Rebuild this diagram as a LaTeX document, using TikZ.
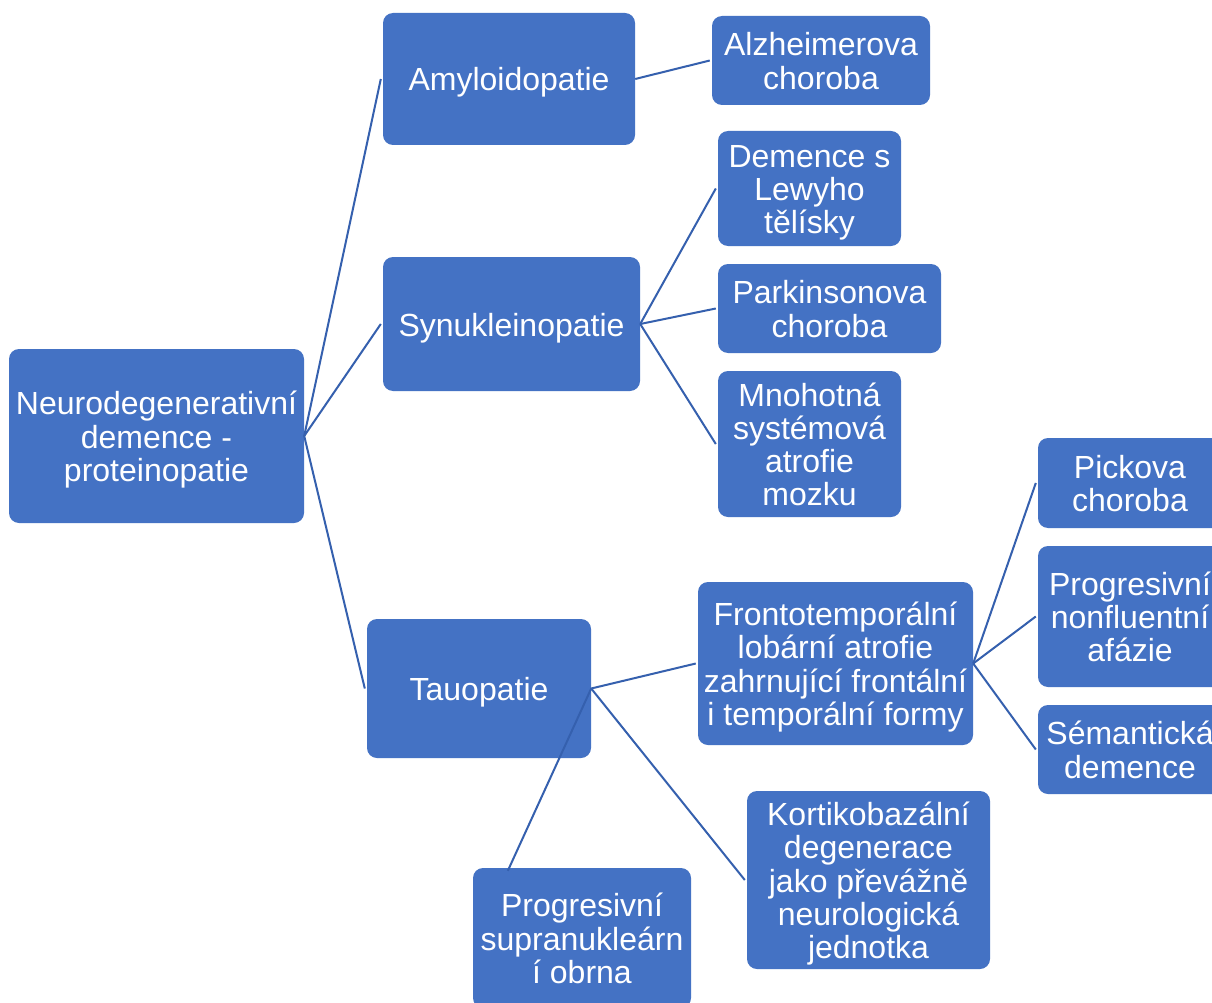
\documentclass[tikz,border=0pt]{standalone}
\usepackage{fontspec}
\setmainfont{Liberation Sans}
\usetikzlibrary{calc}
\definecolor{boxblue}{HTML}{4472C4}
\definecolor{linkblue}{HTML}{3560AE}
\tikzset{
  box/.style={draw=none, fill=boxblue, rounded corners=10pt, text=white, align=center,
    inner sep=0pt, font=\fontsize{32}{33.3}\selectfont},
  link/.style={draw=linkblue, line width=2pt},
}
\newcommand{\topstrut}{\rule{0pt}{32pt}}
\newcommand{\botstrut}{\rule[-8pt]{0pt}{8pt}}
\newcommand{\bx}[6]{\node[box, minimum width=#4, minimum height=#5] (#1) at (#2,#3) {\topstrut#6\botstrut};}
\begin{document}
\begin{tikzpicture}[x=1pt,y=-1pt]
\useasboundingbox (0,0) rectangle (1212,1003);
\clip (0,0) rectangle (1212,1003);
\fill[white] (0,0) rectangle (1212,1003);
\bx{root}{156.5}{436}{295}{174}{Neurodegenerativní\\demence -\\proteinopatie}
\bx{amy}{509}{79}{252}{132}{Amyloidopatie}
\bx{syn}{511.5}{324}{257}{134}{Synukleinopatie}
\bx{tau}{479}{688.5}{224}{139}{Tauopatie}
\bx{alz}{821}{60.5}{218}{89}{Alzheimerova\\choroba}
\bx{lew}{809.5}{188.5}{183}{115}{Demence s\\Lewyho\\tělísky}
\bx{par}{829.5}{308.5}{223}{89}{Parkinsonova\\choroba}
\bx{mno}{809.5}{444}{183}{146}{Mnohotná\\systémová\\atrofie\\mozku}
\bx{fro}{835.5}{663.5}{275}{163}{Frontotemporální\\lobární atrofie\\zahrnující frontální\\i temporální formy}
\bx{pic}{1130}{483}{184}{90}{Pickova\\choroba}
\bx{pnf}{1130}{616.5}{184}{141}{Progresivní\\nonfluentní\\afázie}
\bx{sem}{1130}{749.5}{184}{89}{Sémantická\\demence}
\bx{kor}{868.5}{880}{243}{178}{Kortikobazální\\degenerace\\jako převážně\\neurologická\\jednotka}
\bx{psp}{582}{938}{218}{140}{Progresivní\\supranukleárn\\í obrna}
\coordinate (pspend) at ($(psp.north west)+(35,3)$);
\draw[link] (root.east) -- ($(amy.west)+(-2,0)$);
\draw[link] (root.east) -- ($(syn.west)+(-2,0)$);
\draw[link] (root.east) -- ($(tau.west)+(-2,0)$);
\draw[link] (amy.east) -- ($(alz.west)+(-2,0)$);
\draw[link] (syn.east) -- ($(lew.west)+(-2,0)$);
\draw[link] (syn.east) -- ($(par.west)+(-2,0)$);
\draw[link] (syn.east) -- ($(mno.west)+(-2,0)$);
\draw[link] (tau.east) -- ($(fro.west)+(-2,0)$);
\draw[link] (tau.east) -- ($(kor.west)+(-2,0)$);
\draw[link] (tau.east) -- (pspend);
\draw[link] (fro.east) -- ($(pic.west)+(-2,0)$);
\draw[link] (fro.east) -- ($(pnf.west)+(-2,0)$);
\draw[link] (fro.east) -- ($(sem.west)+(-2,0)$);
\end{tikzpicture}
\end{document}
